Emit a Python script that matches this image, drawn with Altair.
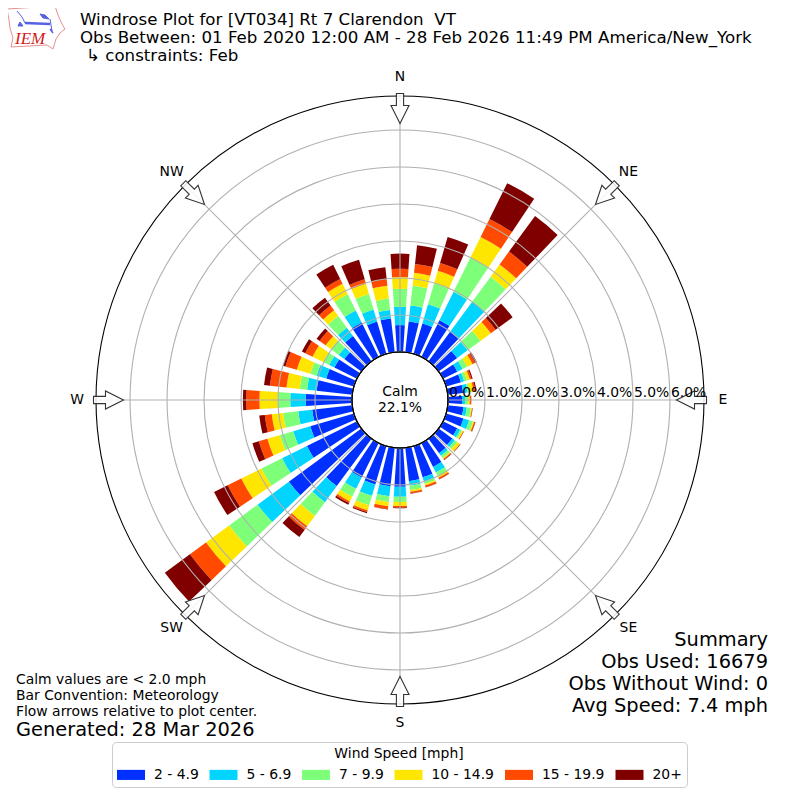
import altair as alt
import pandas as pd
import math

directions = list(range(0, 360, 10))
speed_bins = ["2 - 4.9", "5 - 6.9", "7 - 9.9", "10 - 14.9", "15 - 19.9", "20+"]
bin_colors = ["#0030ff", "#00d4ff", "#7dff7a", "#ffe600", "#ff4a00", "#800000"]

s_2_5 = [.73,.84,.86,1.11,1.00,.62,.43,.42,.42,.38,.43,.49,.43,.46,.49,.72,.88,.91,
         1.05,1.05,1.08,1.04,1.59,2.43,1.51,1.23,1.09,1.25,.97,.78,.68,.57,.85,1.04,.91,.92]
s_5_7 = [.49,.43,.54,.86,1.00,.35,.16,.09,.12,.08,.09,.16,.09,.08,.08,.17,.12,.12,
         .27,.27,.32,.34,.54,1.05,.75,.48,.38,.42,.26,.27,.16,.19,.28,.36,.34,.23]
s_7_10 = [.49,.54,.59,1.03,.84,.43,.14,.08,.05,.08,.11,.11,.05,.08,.08,.11,.07,.12,
          .14,.16,.27,.24,.46,.95,.62,.38,.41,.34,.20,.18,.18,.26,.39,.49,.44,.31]
s_10_15 = [.32,.35,.35,.62,.41,.35,.16,.08,.11,.05,.03,.03,.04,.09,.03,.05,.04,.05,
           .11,.11,.14,.14,.35,.78,.61,.35,.31,.49,.36,.38,.32,.18,.19,.32,.29,.35]
s_15_20 = [.22,.24,.22,.54,.43,.16,.08,.05,.05,.03,.01,.03,.01,.01,.03,.04,.05,.04,
           .04,.08,.05,.05,.12,.54,.41,.24,.19,.36,.45,.32,.22,.20,.16,.14,.12,.18]
s_20 = [.41,.51,.73,1.08,1.19,.57,.05,.03,.03,.01,.01,.01,.01,.01,.01,.01,.01,.01,
        .02,.01,.03,.05,.24,.84,.41,.18,.15,.09,.16,.07,.10,.10,.26,.43,.55,.32]
series = [s_2_5, s_5_7, s_7_10, s_10_15, s_15_20, s_20]

ring_pct = [1, 2, 3, 4, 5, 6]
ring_labels = ["0.0%", "1.0%", "2.0%", "3.0%", "4.0%", "5.0%", "6.0%"]
compass = ["N", "NE", "E", "SE", "S", "SW", "W", "NW"]
compass_dir = [0, 45, 90, 135, 180, 225, 270, 315]

FONT = "DejaVu Sans"
BAR_WIDTH = 7.4
R_HOLE, R_RIM, R_MAX = 48, 304, 6.92
INK = "#000000"

rows = []
for d_i, d in enumerate(directions):
    base = 0.0
    for b_i, name in enumerate(speed_bins):
        v = series[b_i][d_i]
        rows.append(dict(a0=d - BAR_WIDTH / 2, a1=d + BAR_WIDTH / 2, r0=base, r1=base + v, speed=name))
        base += v
bars = pd.DataFrame(rows)

theta_s = alt.Scale(domain=[0, 360], range=[0, 2 * math.pi])
rad_s = alt.Scale(domain=[0, R_MAX], range=[R_HOLE, R_RIM], zero=False, nice=False)
xs = alt.Scale(domain=[-392, 392], range=[0, 784], nice=False, zero=False)
ys = alt.Scale(domain=[-392, 392], range=[784, 0], nice=False, zero=False)

rect_sym = "M-1,-0.36L1,-0.36L1,0.36L-1,0.36Z"
bar_layer = alt.Chart(bars).mark_arc(strokeWidth=0).encode(
    theta=alt.Theta("a0:Q", scale=theta_s, stack=None),
    theta2="a1:Q",
    radius=alt.Radius("r1:Q", scale=rad_s),
    radius2="r0:Q",
    color=alt.Color("speed:N", scale=alt.Scale(domain=speed_bins, range=bin_colors),
                    legend=alt.Legend(
                        orient="none", legendX=104, legendY=734, direction="horizontal", columns=6,
                        title="Wind Speed [mph]", titleAnchor="middle", titleFont=FONT, titleFontSize=13.9,
                        titleFontWeight="normal", titleColor=INK, titlePadding=0,
                        labelFont=FONT, labelFontSize=13.9, labelColor=INK, labelOffset=9,
                        symbolType=rect_sym, symbolSize=784, symbolStrokeWidth=0, symbolOpacity=1,
                        gridAlign="none", columnPadding=10.5, padding=5,
                        strokeColor="#cccccc", fillColor="white", cornerRadius=4)),
)

rings = pd.DataFrame({"r": ring_pct, "a0": 0, "a1": 360})
ring_layer = alt.Chart(rings).mark_arc(fillOpacity=0, stroke="#b0b0b0", strokeWidth=1.1).encode(
    theta=alt.Theta("a0:Q", scale=theta_s, stack=None), theta2="a1:Q",
    radius=alt.Radius("r:Q", scale=rad_s))
edges = pd.DataFrame({"r": [0, R_MAX], "a0": 0, "a1": 360})
edge_layer = alt.Chart(edges).mark_arc(fillOpacity=0, stroke="#000000", strokeWidth=1.1).encode(
    theta=alt.Theta("a0:Q", scale=theta_s, stack=None), theta2="a1:Q",
    radius=alt.Radius("r:Q", scale=rad_s))

spokes = pd.DataFrame({"d": compass_dir})
rad = spokes.d * math.pi / 180
spokes["x1"] = R_HOLE * rad.map(math.sin)
spokes["y1"] = R_HOLE * rad.map(math.cos)
spokes["x2"] = R_RIM * rad.map(math.sin)
spokes["y2"] = R_RIM * rad.map(math.cos)
spoke_layer = alt.Chart(spokes).mark_rule(stroke="#b0b0b0", strokeWidth=1.1).encode(
    x=alt.X("x1:Q", scale=xs, axis=None), y=alt.Y("y1:Q", scale=ys, axis=None),
    x2="x2:Q", y2="y2:Q")

arrow_path = "M-0.24,-1L0.24,-1L0.24,-0.2L0.6,-0.2L0,1L-0.6,-0.2L-0.24,-0.2Z"
arrows = pd.DataFrame({"d": compass_dir})
rad = arrows.d * math.pi / 180
arrows["x"] = 291.5 * rad.map(math.sin)
arrows["y"] = 291.5 * rad.map(math.cos)
arrow_layer = alt.Chart(arrows).mark_point(
    shape=arrow_path, size=900, filled=True, fill="#ffffff", fillOpacity=0.85, stroke="#333333",
    strokeWidth=1.1, opacity=1).encode(
    x=alt.X("x:Q", scale=xs, axis=None), y=alt.Y("y:Q", scale=ys, axis=None),
    angle=alt.Angle("d:Q", scale=None))

ring_text = pd.DataFrame({"v": [0, 1, 2, 3, 4, 5, 6], "t": ring_labels, "a": 90})
ring_text_layer = alt.Chart(ring_text).mark_text(
    align="left", baseline="middle", dy=-7, dx=1, font=FONT, fontSize=13.9, color=INK).encode(
    theta=alt.Theta("a:Q", scale=theta_s, stack=None),
    radius=alt.Radius("v:Q", scale=rad_s), text="t:N")

comp_text = pd.DataFrame({"a": compass_dir, "t": compass, "v": (323 - R_HOLE) / 37.0})
comp_layer = alt.Chart(comp_text).mark_text(
    align="center", baseline="middle", font=FONT, fontSize=13.9, color=INK).encode(
    theta=alt.Theta("a:Q", scale=theta_s, stack=None),
    radius=alt.Radius("v:Q", scale=rad_s), text="t:N")


def label(text, px, py, size, align="left", color=INK, font=FONT, **kw):
    return alt.Chart(pd.DataFrame({"t": [text]})).mark_text(
        align=align, baseline="middle", font=font, fontSize=size, color=color, **kw).encode(
        x=alt.value(px - 8), y=alt.value(py - 8), text="t:N")


texts = [
    label("Windrose Plot for [VT034] Rt 7 Clarendon\u00a0 VT", 80, 20, 15.3 * 672 / 617),
    label("Obs Between: 01 Feb 2020 12:00 AM - 28 Feb 2026 11:49 PM America/New_York", 80, 37.5, 15.3 * 672 / 617),
    label("\u21b3 constraints: Feb", 86, 55.5, 15.3 * 672 / 617),
    label("Calm", 400, 392, 13.9, align="center"),
    label("22.1%", 400, 408, 13.9, align="center"),
    label("Summary", 768, 640, 19.4, align="right"),
    label("Obs Used: 16679", 768, 662, 19.4, align="right"),
    label("Obs Without Wind: 0", 768, 684, 19.4, align="right"),
    label("Avg Speed: 7.4 mph", 768, 706, 19.4, align="right"),
    label("Calm values are < 2.0 mph", 16, 680, 13.9),
    label("Bar Convention: Meteorology", 16, 696, 13.9),
    label("Flow arrows relative to plot center.", 16, 712, 13.9),
    label("Generated: 28 Mar 2026", 16, 730, 19.4),
]


def px_path(pts, close=False):
    cx, cy, s = 36.0, 28.0, 30.0
    d = "M" + "L".join(f"{(x - cx) / s:.3f},{(y - cy) / s:.3f}" for x, y in pts)
    return d + ("Z" if close else "")


def logo_mark(pts, color, width, close=False, fill=None):
    kw = dict(shape=px_path(pts, close), size=3600, stroke=color, strokeWidth=width)
    if fill:
        kw.update(filled=True, fill=fill)
    else:
        kw.update(filled=False)
    return alt.Chart(pd.DataFrame({"a": [0]})).mark_point(**kw).encode(x=alt.value(28), y=alt.value(20))


iowa = [(7, 9), (55, 6), (58, 15), (62, 24), (65, 29), (60, 33), (56, 39), (53, 49),
        (47, 45), (11, 47), (13, 38), (10, 28), (9, 20)]
logo = [
    logo_mark(iowa, "#e06060", 1, close=True, fill="#ffffff"),
    logo_mark([(25, 23), (50, 24)], "#1020d8", 2.5),
    logo_mark([(17, 11), (22, 17), (25, 23)], "#1020d8", 1),
    logo_mark([(40, 14), (45, 15), (49, 19), (43, 18)], "#1020d8", 1, close=True, fill="#1020d8"),
    logo_mark([(50, 19), (52, 31)], "#1020d8", 1),
    logo_mark([(20, 22), (23, 26), (18, 26)], "#1020d8", 1, close=True, fill="#1020d8"),
    logo_mark([(50, 29), (53, 33)], "#1020d8", 1.5),
    label("IEM", 15, 39, 17, color="#d02020", font="Liberation Serif", fontStyle="italic"),
]

chart = alt.layer(
    bar_layer, ring_layer, spoke_layer, edge_layer, arrow_layer, ring_text_layer, comp_layer,
    *texts, *logo
).properties(
    width=784, height=784, padding=0, autosize=alt.AutoSizeParams(type="none"), background="white"
).configure_view(stroke=None)

chart.save("out.html", embed_options={"renderer": "svg", "actions": False})
